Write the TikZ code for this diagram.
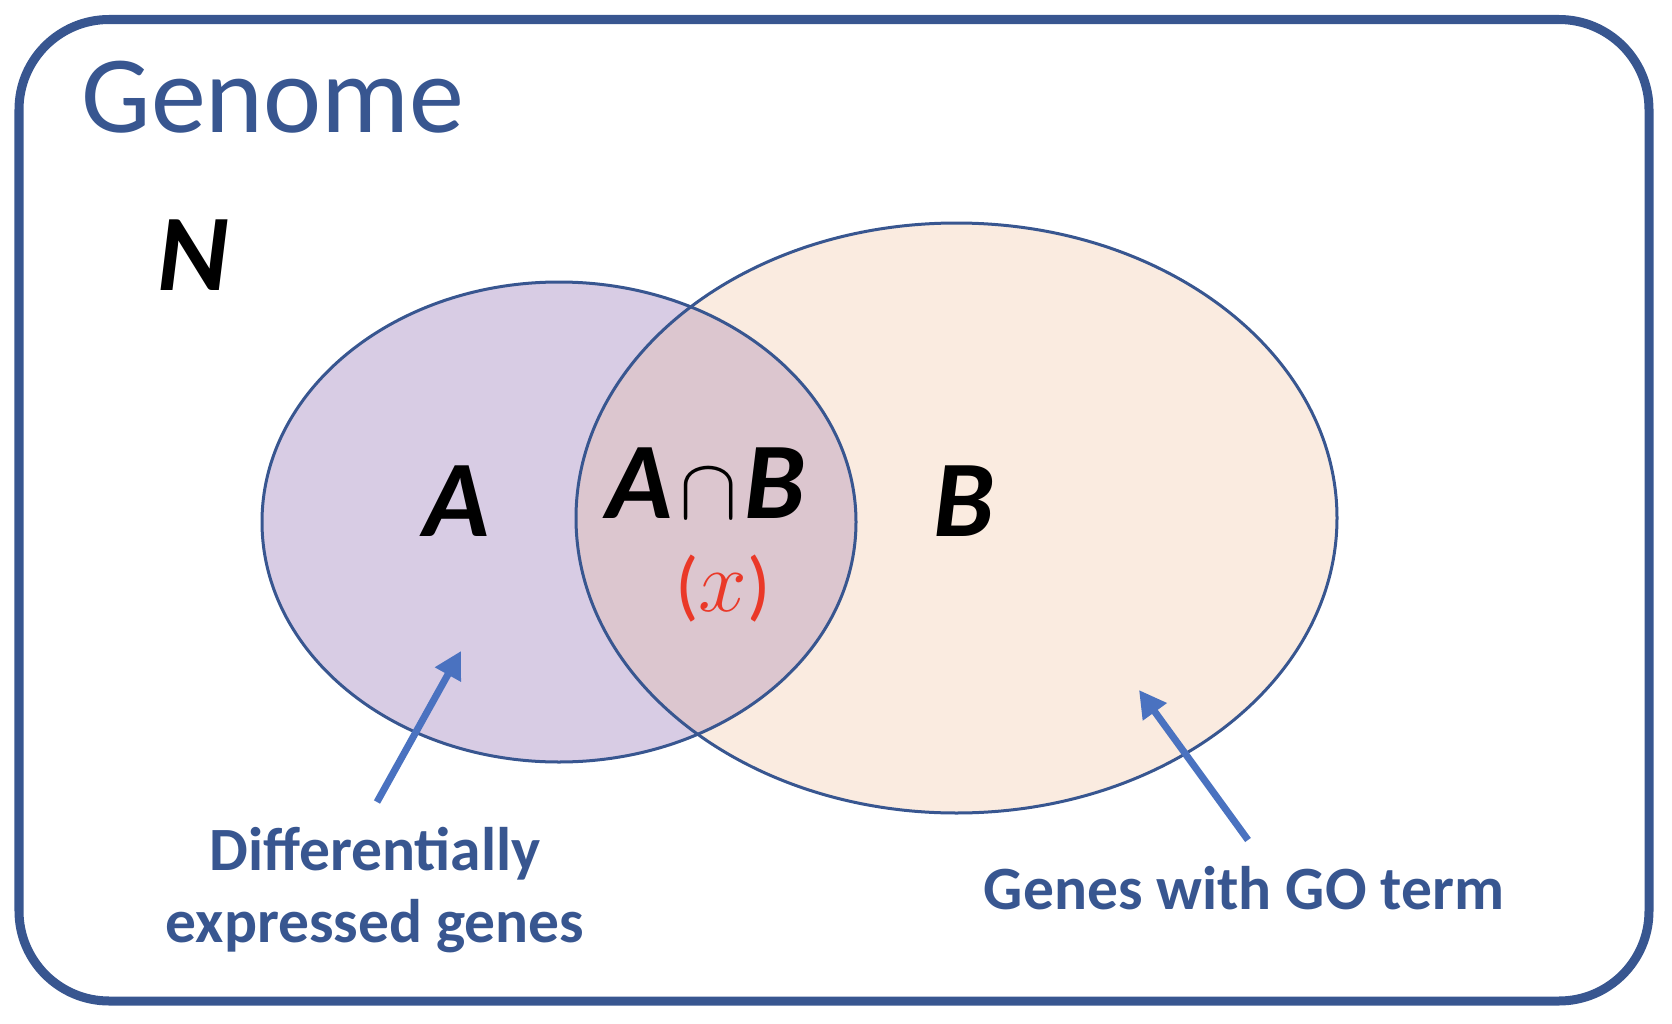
\documentclass[tikz,border=0pt]{standalone}
\usepackage{fontspec}
\setmainfont{Carlito}
\usetikzlibrary{arrows.meta}
\definecolor{frameblue}{RGB}{56,86,144}
\definecolor{arrowblue}{RGB}{74,114,192}
\definecolor{fillA}{RGB}{216,204,228}
\definecolor{fillB}{RGB}{250,235,224}
\definecolor{fillAB}{RGB}{220,198,207}
\definecolor{xred}{RGB}{234,56,40}
\tikzset{
  setline/.style={draw=frameblue, line width=0.03cm},
  setletter/.style={inner sep=0pt, text=black, font=\fontsize{31}{36}\selectfont\bfseries\itshape},
  labeltext/.style={inner sep=0pt, text=frameblue, font=\fontsize{17.5}{21}\selectfont\bfseries},
  pointer/.style={draw=arrowblue, line width=0.07cm, -{Triangle[length=0.27cm, width=0.28cm]}}
}
\begin{document}
\begin{tikzpicture}[x=0.01cm, y=-0.01cm]
\useasboundingbox (0,0) rectangle (1672,1024);
% frame
\draw[frameblue, line width=0.09cm, rounded corners=0.9cm] (19,19.5) rectangle (1649,1001);
\node[anchor=base west, inner sep=0pt, text=frameblue, font=\fontsize{31.3}{36}\selectfont] (genome) at (81,133) {Genome};
\node[setletter, anchor=base] (N) at (193,290) {N};
% ellipses fills
\fill[fillB] (956.5,518) ellipse [x radius=380.5, y radius=295];
\fill[fillA] (559,522) ellipse [x radius=297, y radius=240];
\begin{scope}
  \clip (956.5,518) ellipse [x radius=380.5, y radius=295];
  \fill[fillAB] (559,522) ellipse [x radius=297, y radius=240];
\end{scope}
\draw[setline] (559,522) ellipse [x radius=297, y radius=240];
\draw[setline] (956.5,518) ellipse [x radius=380.5, y radius=295];
% labels
\node[setletter, anchor=base] (A) at (457,536) {A};
\node[setletter, anchor=base] (B) at (964,536) {B};
\node[setletter, anchor=base] (AB) at (706,518) {A\hspace{2pt}{\normalfont\upshape\fontsize{37}{40}\selectfont$\cap$}\hspace{2pt}B};
\node[inner sep=0pt, anchor=base, text=xred, font=\fontsize{22}{26}\selectfont] (x) at (723,611) {({\fontsize{27}{30}\selectfont$x$})};
% pointers
\node[labeltext, anchor=base] (de1) at (375,870) {Differentially};
\node[labeltext, anchor=base] (de2) at (375,942) {expressed genes};
\node[labeltext, anchor=base] (go) at (1244,909) {Genes with GO term};
\coordinate (lt) at (377,802);
\coordinate (lh) at (461,651);
\coordinate (rt) at (1248,840);
\coordinate (rh) at (1139,690);
\draw[pointer] (lt) -- (lh);
\draw[pointer] (rt) -- (rh);
\end{tikzpicture}
\end{document}
